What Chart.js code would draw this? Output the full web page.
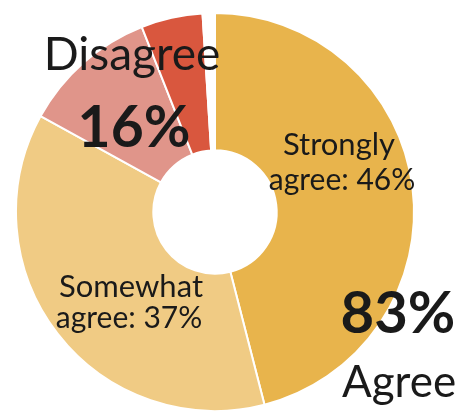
<!DOCTYPE html>
<html>
<head>
<meta charset="utf-8">
<script src="https://cdn.jsdelivr.net/npm/chart.js@4/dist/chart.umd.min.js"></script>
<style>
  html, body { margin: 0; padding: 0; background: #fff; }
  #wrap { width: 460px; height: 412px; }
</style>
</head>
<body>
<div id="wrap"><canvas id="agreeChart" width="460" height="412"></canvas></div>
<script>
const categories = ['Strongly agree', 'Somewhat agree', 'Somewhat disagree', 'Strongly disagree', 'Neutral'];
const shares = [46, 37, 11, 5, 1];
const sliceColors = ['#e8b44c', '#f0cb84', '#e0958a', '#d9573e', '#ffffff'];

// text drawn on top: [text, x, baseline y, font]
const labels = [
  ['Disagree', 132, 70, '400 46px Lato'],
  ['16%', 134, 147, '700 57px Lato'],
  ['Strongly', 339, 155, '400 31px Lato'],
  ['agree: 46%', 342, 190, '400 30px Lato'],
  ['Somewhat', 131, 297, '400 31px Lato'],
  ['agree: 37%', 129, 328, '400 30px Lato'],
  ['83%', 398, 333, '700 58px Lato'],
  ['Agree', 399, 397, '400 44px Lato']
];

const textPlugin = {
  id: 'textPlugin',
  afterDraw(chart) {
    const c = chart.ctx;
    c.save();
    c.fillStyle = '#1a1a1a';
    c.textAlign = 'center';
    c.textBaseline = 'alphabetic';
    labels.forEach(l => {
      c.font = l[3];
      c.fillText(l[0], l[1], l[2]);
    });
    c.restore();
  }
};

const ctx = document.getElementById('agreeChart').getContext('2d');
const chart = new Chart(ctx, {
  type: 'doughnut',
  data: {
    labels: categories,
    datasets: [{
      data: shares,
      backgroundColor: sliceColors,
      borderColor: '#ffffff',
      borderWidth: 2
    }]
  },
  options: {
    responsive: false,
    animation: false,
    cutout: '31%',
    layout: { padding: { top: 12, bottom: 0, left: 0, right: 30 } },
    plugins: {
      legend: { display: false },
      tooltip: { enabled: false }
    }
  },
  plugins: [textPlugin]
});
</script>
</body>
</html>
